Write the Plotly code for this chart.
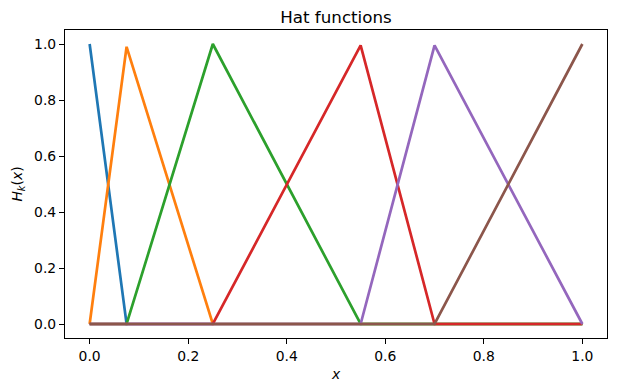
import plotly.graph_objects as go

# Nodes of the hat functions
nodes = [0.0, 0.075, 0.25, 0.55, 0.7, 1.0]

# Values of each hat function H_k at the nodes
H0 = [1.0, 0.0, 0.0, 0.0, 0.0, 0.0]
H1 = [0.0, 0.99, 0.0, 0.0, 0.0, 0.0]
H2 = [0.0, 0.0, 1.0, 0.0, 0.0, 0.0]
H3 = [0.0, 0.0, 0.0, 0.995, 0.0, 0.0]
H4 = [0.0, 0.0, 0.0, 0.0, 0.995, 0.0]
H5 = [0.0, 0.0, 0.0, 0.0, 0.0, 1.0]
series = [H0, H1, H2, H3, H4, H5]

colors = ["#1f77b4", "#ff7f0e", "#2ca02c", "#d62728", "#9467bd", "#8c564b"]

tick_vals = [0.0, 0.2, 0.4, 0.6, 0.8, 1.0]
tick_text = ["0.0", "0.2", "0.4", "0.6", "0.8", "1.0"]

fig = go.Figure()
for k, ys in enumerate(series):
    fig.add_trace(go.Scatter(
        x=nodes, y=ys, mode="lines",
        line=dict(color=colors[k], width=2.7),
        showlegend=False, hoverinfo="skip",
    ))

axis_common = dict(
    showgrid=False, zeroline=False, automargin=False,
    showline=True, linecolor="black", linewidth=1.1, mirror=True,
    ticks="outside", ticklen=5, tickwidth=1.1, tickcolor="black",
    tickfont=dict(family="DejaVu Sans", size=13.9, color="black"),
    tickvals=tick_vals, ticktext=tick_text,
)

# The page has an 8px body margin; margins below compensate for it.
fig.update_layout(
    width=617, height=391,
    margin=dict(l=57, r=18, t=22, b=61),
    paper_bgcolor="white", plot_bgcolor="white",
    font=dict(family="DejaVu Sans", color="black"),
    title=dict(
        text="Hat functions",
        font=dict(family="DejaVu Sans", size=16.7, color="black"),
        x=(57 + 599) / 2 / 617, xanchor="center",
        yref="container", y=1 - 9 / 391, yanchor="middle",
    ),
    xaxis=dict(
        range=[-0.05, 1.05],
        title=dict(text="<i>x</i>", font=dict(family="DejaVu Sans", size=13.9), standoff=6),
        **axis_common,
    ),
    yaxis=dict(
        range=[-0.05, 1.05],
        title=dict(text="<i>H</i><sub><i>k</i></sub>(<i>x</i>)",
                   font=dict(family="DejaVu Sans", size=13.9), standoff=8),
        **axis_common,
    ),
)

fig.write_html("out.html")
